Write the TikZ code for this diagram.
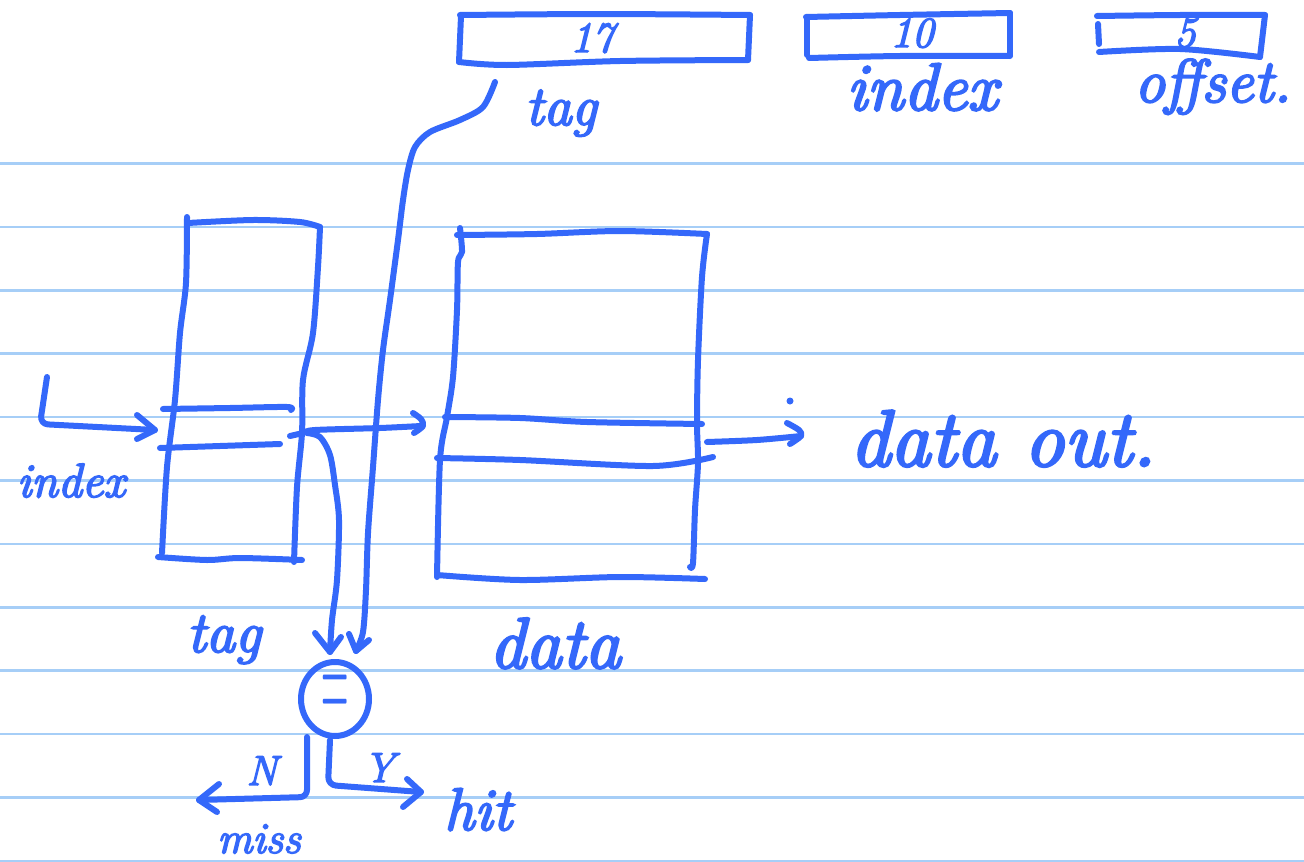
\documentclass[tikz,border=0pt]{standalone}
\usepackage{fontspec}
\usetikzlibrary{shapes.geometric}
\definecolor{ink}{RGB}{52,104,250}
\definecolor{ruling}{RGB}{166,206,247}
\newfontfamily\penfont{Latin Modern Roman}[ItalicFeatures={FakeBold=3.5}]
\newcommand{\hand}[1]{\fontsize{#1}{#1}\selectfont\penfont\itshape}
\tikzset{
  pen/.style={draw=ink, line width=6pt, line cap=round, line join=round},
  hw/.style={text=ink, inner sep=0pt, anchor=base},
  paperline/.style={draw=ruling, line width=2.5pt},
}
\begin{document}
\begin{tikzpicture}[x=1pt,y=-1pt]
\useasboundingbox (0,0) rectangle (1304,862);
\fill[white] (0,0) rectangle (1304,862);
% ruled paper
\foreach \k in {0,...,11}
  \draw[paperline] (0,163.5+63.4*\k) -- (1304,163.5+63.4*\k);

% ---------- address fields ----------
\draw[pen] plot[smooth] coordinates {(460,15) (600,14) (750,15)};
\draw[pen] (750,15) -- (748,60);
\draw[pen] plot[smooth] coordinates {(748,60) (620,61) (507,65) (459,62)};
\draw[pen] (459,62) -- (461,16);
\node[hw, font=\hand{43}] (f17) at (592,52) {17};

\draw[pen] plot[smooth] coordinates {(806,17) (900,15) (1010,13)};
\draw[pen] (1010,13) -- (1010,55);
\draw[pen] plot[smooth] coordinates {(1010,56) (900,56) (809,58)};
\draw[pen] (807,55) -- (807,19);
\node[hw, font=\hand{43}] (f10) at (912,47) {10};

\draw[pen] plot[smooth] coordinates {(1097,16) (1180,15) (1265,15)};
\draw[pen] (1265,15) -- (1260,57);
\draw[pen] plot[smooth] coordinates {(1099,52) (1180,49) (1260,57)};
\draw[pen] (1098,24) -- (1099,44);
\node[hw, font=\hand{43}] (f5) at (1185,47) {5};

\node[hw, font=\hand{56}] (ltag) at (561,125) {tag};
\node[hw, font=\hand{67}] (lindex) at (922,110) {index};
\node[hw, font=\hand{61}] (loffset) at (1213,102) {offset.};

% ---------- tag array ----------
\draw[pen] plot[smooth] coordinates {(188,223) (253,220) (300,222) (320,227)};
\draw[pen] plot[smooth] coordinates {(320,227) (318,267) (313,333) (303,380) (302,433) (297,487) (294,562)};
\draw[pen] plot[smooth] coordinates {(187,217) (186,283) (180,333) (175,400) (167,467) (162,553)};
\draw[pen] plot[smooth] coordinates {(158,557) (207,560) (240,558) (302,560)};
\draw[pen] plot[smooth] coordinates {(163,409) (230,408) (287,407) (291,410)};
\draw[pen] plot[smooth] coordinates {(160,448) (220,446) (280,444)};
\node[hw, font=\hand{58}] (ttag) at (224,652) {tag};

% ---------- data array ----------
\draw[pen] plot[smooth] coordinates {(457,235) (537,234) (620,231) (707,234)};
\draw[pen] plot[smooth] coordinates {(460,228) (462,252) (458,262) (457,310) (453,377) (447,417) (440,460) (437,577)};
\draw[pen] plot[smooth] coordinates {(707,234) (702,277) (698,360) (697,423) (698,463) (695,510) (693,563) (690,567)};
\draw[pen] plot[smooth] coordinates {(437,575) (520,580) (620,577) (705,579)};
\draw[pen] plot[smooth] coordinates {(445,417) (520,418) (587,422) (702,424)};
\draw[pen] plot[smooth] coordinates {(437,458) (520,460) (653,466) (713,457)};
\node[hw, font=\hand{72}] (tdata) at (555,668) {data};

% ---------- index input ----------
\node[hw, font=\hand{48}] (tindex) at (71,497) {index};
\coordinate (idxin) at (155,430);
\draw[pen, rounded corners=8pt] (47,377) -- (40,424) -- (idxin);
\draw[pen] (137,415) -- (idxin) -- (137,439);

% ---------- tag row to data and to comparator ----------
\coordinate (torow) at (421,426);
\draw[pen] plot[smooth] coordinates {(290,436) (303,433) (315,430) (380,428) (torow)};
\draw[pen] plot[smooth] coordinates {(413,413) (421,419) (423,426) (414,433)};

\node[pen, ellipse, minimum width=68pt, minimum height=74pt, inner sep=0pt] (cmp) at (335,699)
  {\textcolor{ink}{\fontsize{40}{40}\selectfont\scalebox{0.95}[3.4]{=}}};

\coordinate (inA) at (330,652);
\draw[pen] plot[smooth] coordinates {(307,433) (320,437) (330,455) (335,485) (339,520) (337,580) (332,620) (inA)};
\draw[pen] (315,633) -- (inA) -- (341,637);

\coordinate (inB) at (356,651);
\draw[pen] plot[smooth] coordinates {(495,82) (483,107) (460,120) (430,132) (415,147) (408,170) (403,200) (398,240) (390,300) (383,350) (378,400) (373,467) (368,533) (366,590) (363,632) (inB)};
\draw[pen] (349,634) -- (inB) -- (369,640);

% ---------- data out ----------
\coordinate (dout) at (801,436);
\draw[pen] plot[smooth] coordinates {(707,442) (757,440) (dout)};
\draw[pen] plot[smooth] coordinates {(787,423) (799,430) (801,436) (790,444)};
\fill[ink] (790,401) circle (3.5pt);
\node[hw, font=\hand{80}] (tout) at (1003,466) {data out.};

% ---------- hit / miss ----------
\coordinate (missend) at (199,800);
\draw[pen, rounded corners=7pt] (307,737) -- (307,797) -- (missend);
\draw[pen] (219,784) -- (missend) -- (217,812);
\node[hw, font=\hand{42}] (tN) at (262,785) {N};
\node[hw, font=\hand{44}] (tmiss) at (259,853) {miss};

\coordinate (hitend) at (421,792);
\draw[pen, rounded corners=8pt] (330,740) -- (328,785) -- (hitend);
\draw[pen] (407,779) -- (hitend) -- (403,807);
\node[hw, font=\hand{42}] (tY) at (379,782) {Y};
\node[hw, font=\hand{60}] (thit) at (478,830) {hit};
\end{tikzpicture}
\end{document}
